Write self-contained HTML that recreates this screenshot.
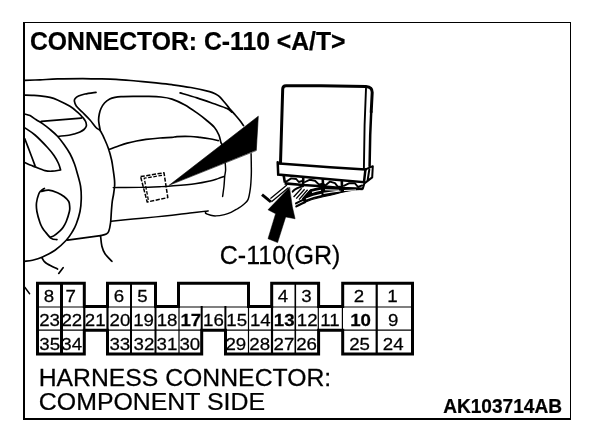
<!DOCTYPE html>
<html>
<head>
<meta charset="utf-8">
<title>CONNECTOR: C-110 A/T</title>
<style>
html,body{margin:0;padding:0;background:#fff;}
body{width:608px;height:434px;overflow:hidden;font-family:"Liberation Sans",sans-serif;}
svg{display:block;position:absolute;left:0;top:0;filter:grayscale(1);}
text{font-family:"Liberation Sans",sans-serif;fill:#000;stroke:#000;stroke-width:0.25px;}
.b{font-weight:bold;}
.n{font-size:17.3px;}
</style>
</head>
<body>
<svg width="608" height="434" viewBox="0 0 608 434">
<rect x="0" y="0" width="608" height="434" fill="#fff"/>
<g id="frame" fill="#000" shape-rendering="crispEdges">
<rect x="23" y="22" width="548" height="1"/>
<rect x="23" y="22" width="2" height="398"/>
<rect x="570" y="22" width="1" height="398"/>
<rect x="23" y="418" width="548" height="2"/>
</g>
<g id="labels">
<text class="b" transform="translate(29.97 50.25) scale(0.9663 1)" font-size="25.60">CONNECTOR: C-110 &lt;A/T&gt;</text>
<text transform="translate(219.70 263.90) scale(0.9873 1)" font-size="25.40">C-110(GR)</text>
<text transform="translate(38.69 385.80) scale(1.0028 1)" font-size="24.70">HARNESS CONNECTOR:</text>
<text transform="translate(38.84 410.30) scale(1.0077 1)" font-size="24.70">COMPONENT SIDE</text>
<text class="b" transform="translate(443.13 412.80) scale(0.9460 1)" font-size="20.20">AK103714AB</text>
</g>
<g id="grid" fill="none" stroke="#000" stroke-linecap="butt">
<path stroke-width="1.1" d="M38 307H412M38 330.1H412"/>
<path stroke-width="3" d="M61.5 283V354"/>
<path stroke-width="2" d="M131 283V354M155.5 306V354M201.7 306V331M225.4 306V331"/>
<path stroke-width="2.2" d="M84.3 306V331M107.5 306V331M272 306V354M376.7 283V354"/>
<path stroke-width="1.2" d="M179 306V354M248.5 306V354M318.3 306V331M342.4 306V331"/>
<path stroke-width="1.6" d="M295.3 283V354"/>
<path id="outline" stroke-width="3" stroke-linejoin="miter" d="M37.5 283.3H84.3V306.45H107.5V283.3H155.5V306.45H178.5V283.3H248.5V306.45H271.7V283.3H318.6V306.45H342.7V283.3H412.5V354.1H342.7V330.25H318.6V354.1H225.5V330.25H201.7V354.1H107.5V330.25H84.3V354.1H37.5Z"/>
</g>
<g id="nums">
<text class="n" transform="translate(43.80 302.00) scale(1.080 1)">8</text>
<text class="n" transform="translate(65.60 302.00) scale(1.080 1)">7</text>
<text class="n" transform="translate(113.73 302.00) scale(1.080 1)">6</text>
<text class="n" transform="translate(137.24 302.00) scale(1.080 1)">5</text>
<text class="n" transform="translate(277.87 302.00) scale(1.080 1)">4</text>
<text class="n" transform="translate(301.24 302.00) scale(1.080 1)">3</text>
<text class="n" transform="translate(353.80 302.00) scale(1.080 1)">2</text>
<text class="n" transform="translate(387.13 302.00) scale(1.080 1)">1</text>
<text class="n" transform="translate(39.14 326.45) scale(1.080 1)">23</text>
<text class="n" transform="translate(61.40 326.45) scale(1.080 1)">22</text>
<text class="n" transform="translate(84.87 326.45) scale(1.080 1)">21</text>
<text class="n" transform="translate(109.50 326.45) scale(1.080 1)">20</text>
<text class="n" transform="translate(133.14 326.45) scale(1.080 1)">19</text>
<text class="n" transform="translate(156.70 326.45) scale(1.080 1)">18</text>
<text class="n b" transform="translate(180.44 326.45) scale(1.080 1)">17</text>
<text class="n" transform="translate(203.10 326.45) scale(1.080 1)">16</text>
<text class="n" transform="translate(226.30 326.45) scale(1.080 1)">15</text>
<text class="n" transform="translate(249.97 326.45) scale(1.080 1)">14</text>
<text class="n b" transform="translate(273.87 326.45) scale(1.080 1)">13</text>
<text class="n" transform="translate(296.87 326.45) scale(1.080 1)">12</text>
<text class="n" transform="translate(320.24 326.45) scale(1.080 1)">11</text>
<text class="n b" transform="translate(350.20 326.45) scale(1.080 1)">10</text>
<text class="n" transform="translate(387.90 326.45) scale(1.080 1)">9</text>
<text class="n" transform="translate(39.24 350.45) scale(1.080 1)">35</text>
<text class="n" transform="translate(61.30 350.45) scale(1.080 1)">34</text>
<text class="n" transform="translate(109.44 350.45) scale(1.080 1)">33</text>
<text class="n" transform="translate(133.51 350.45) scale(1.080 1)">32</text>
<text class="n" transform="translate(156.57 350.45) scale(1.080 1)">31</text>
<text class="n" transform="translate(179.41 350.45) scale(1.080 1)">30</text>
<text class="n" transform="translate(225.47 350.45) scale(1.080 1)">29</text>
<text class="n" transform="translate(249.34 350.45) scale(1.080 1)">28</text>
<text class="n" transform="translate(273.50 350.45) scale(1.080 1)">27</text>
<text class="n" transform="translate(296.14 350.45) scale(1.080 1)">26</text>
<text class="n" transform="translate(349.14 350.45) scale(1.080 1)">25</text>
<text class="n" transform="translate(382.80 350.45) scale(1.080 1)">24</text>
</g>
<g id="art" fill="none" stroke="#000" stroke-width="1.7" stroke-linecap="round" stroke-linejoin="round">
<path d="M24.50 80.40C27.08 80.30 34.50 80.04 40.00 79.80C45.50 79.56 50.42 79.14 57.50 78.95C64.58 78.76 76.08 78.66 82.50 78.65C88.92 78.64 90.42 78.79 96.00 78.90C101.58 79.01 109.33 78.95 116.00 79.30C122.67 79.65 129.33 80.40 136.00 81.00C142.67 81.60 150.00 82.28 156.00 82.90C162.00 83.52 166.21 83.93 172.00 84.70C177.79 85.47 184.50 86.35 190.75 87.50C197.00 88.65 205.29 90.48 209.50 91.60C213.71 92.72 214.33 93.37 216.00 94.20C217.67 95.03 218.08 95.26 219.50 96.60C220.92 97.94 222.83 100.27 224.50 102.25C226.17 104.23 227.83 106.53 229.50 108.50C231.17 110.47 232.83 112.18 234.50 114.10C236.17 116.02 238.00 118.10 239.50 120.00C241.00 121.90 242.83 124.58 243.50 125.50M180.10 92.90C182.92 93.73 191.47 96.13 197.00 97.90C202.53 99.67 208.25 101.73 213.25 103.50C218.25 105.27 223.88 107.05 227.00 108.50C230.12 109.95 231.17 111.58 232.00 112.20M100.40 131.00C100.20 130.00 99.50 126.83 99.20 125.00C98.90 123.17 98.58 121.83 98.60 120.00C98.62 118.17 98.90 115.92 99.30 114.00C99.70 112.08 100.13 110.33 101.00 108.50C101.87 106.67 103.04 104.57 104.50 103.00C105.96 101.43 108.00 100.03 109.75 99.10C111.50 98.17 113.12 97.82 115.00 97.40C116.88 96.98 118.00 96.78 121.00 96.60C124.00 96.42 128.83 96.33 133.00 96.30C137.17 96.27 141.33 96.28 146.00 96.40C150.67 96.52 156.67 96.55 161.00 97.00C165.33 97.45 168.08 97.81 172.00 99.10C175.92 100.39 180.33 102.45 184.50 104.75C188.67 107.05 193.38 110.36 197.00 112.90C200.62 115.44 203.28 117.57 206.20 120.00C209.12 122.43 212.38 125.00 214.50 127.50C216.62 130.00 217.86 132.60 218.90 135.00C219.94 137.40 220.23 140.30 220.75 141.90C221.27 143.50 221.79 144.15 222.00 144.60M96.00 92.30C94.17 92.58 87.92 93.38 85.00 94.00C82.08 94.62 80.13 95.27 78.50 96.00C76.87 96.73 75.88 97.53 75.20 98.40C74.52 99.27 74.23 99.93 74.40 101.20C74.58 102.47 74.90 104.16 76.25 106.00C77.60 107.84 80.21 109.92 82.50 112.25C84.79 114.58 87.75 117.46 90.00 120.00C92.25 122.54 94.27 125.67 96.00 127.50C97.73 129.33 98.98 129.08 100.40 131.00C101.82 132.92 103.15 136.04 104.50 139.00C105.85 141.96 107.32 145.25 108.50 148.75C109.68 152.25 110.82 156.46 111.60 160.00C112.38 163.54 112.72 166.67 113.20 170.00C113.68 173.33 114.27 177.33 114.50 180.00C114.73 182.67 114.75 183.67 114.60 186.00C114.45 188.33 113.99 191.42 113.60 194.00C113.21 196.58 112.62 198.67 112.25 201.50C111.88 204.33 111.68 207.50 111.40 211.00C111.12 214.50 111.04 219.12 110.60 222.50C110.16 225.88 109.47 229.35 108.75 231.25C108.03 233.15 107.61 233.16 106.25 233.90C104.89 234.64 101.54 235.40 100.60 235.70M100.60 235.70L67.50 240.20M24.50 95.20C25.75 95.23 29.42 95.30 32.00 95.40C34.58 95.50 37.00 95.48 40.00 95.80C43.00 96.12 47.08 96.62 50.00 97.30C52.92 97.98 54.17 98.40 57.50 99.90C60.83 101.40 66.67 104.25 70.00 106.30C73.33 108.35 75.42 110.38 77.50 112.20C79.58 114.02 81.15 115.65 82.50 117.20C83.85 118.75 84.97 120.00 85.60 121.50C86.23 123.00 86.57 124.87 86.30 126.20C86.03 127.53 85.05 128.55 84.00 129.50C82.95 130.45 81.50 131.20 80.00 131.90C78.50 132.60 76.67 133.18 75.00 133.70C73.33 134.22 72.71 134.57 70.00 135.00C67.29 135.43 60.62 136.08 58.75 136.30M41.25 121.40L81.25 118.20M24.50 114.00C25.42 114.27 28.04 114.63 30.00 115.60C31.96 116.57 34.17 118.47 36.25 119.80C38.33 121.13 40.21 122.00 42.50 123.60C44.79 125.20 47.50 127.29 50.00 129.40C52.50 131.51 55.17 133.73 57.50 136.25C59.83 138.77 61.92 141.58 64.00 144.50C66.08 147.42 68.25 150.50 70.00 153.75C71.75 157.00 73.25 160.62 74.50 164.00C75.75 167.38 76.48 170.25 77.50 174.00C78.52 177.75 79.97 182.33 80.60 186.50C81.22 190.67 81.35 194.83 81.25 199.00C81.15 203.17 80.83 207.33 80.00 211.50C79.17 215.67 77.50 220.67 76.25 224.00C75.00 227.33 74.17 228.79 72.50 231.50C70.83 234.21 69.17 237.12 66.25 240.25C63.33 243.38 58.96 247.46 55.00 250.25C51.04 253.04 46.25 255.33 42.50 257.00C38.75 258.67 35.50 259.53 32.50 260.25C29.50 260.97 25.83 261.12 24.50 261.30M24.50 127.60C26.25 128.83 31.17 131.68 35.00 135.00C38.83 138.32 44.33 144.08 47.50 147.50C50.67 150.92 52.17 152.83 54.00 155.50C55.83 158.17 57.40 161.08 58.50 163.50C59.60 165.92 60.25 168.92 60.60 170.00M60.60 170.00C59.17 170.20 54.60 171.10 52.00 171.20C49.40 171.30 47.83 171.32 45.00 170.60C42.17 169.88 38.42 168.25 35.00 166.90C31.58 165.55 26.25 163.23 24.50 162.50M24.80 138.75C25.58 140.79 27.80 146.53 29.50 151.00C31.20 155.47 34.08 163.17 35.00 165.60M109.00 149.60C110.50 149.03 114.96 147.28 118.00 146.20C121.04 145.12 124.17 143.97 127.25 143.10C130.33 142.23 133.38 141.62 136.50 141.00C139.62 140.38 142.08 139.90 146.00 139.40C149.92 138.90 155.67 138.33 160.00 138.00C164.33 137.67 169.17 137.63 172.00 137.40C174.83 137.17 173.88 136.75 177.00 136.60C180.12 136.45 186.92 136.37 190.75 136.50C194.58 136.63 196.88 137.03 200.00 137.40C203.12 137.78 206.46 138.22 209.50 138.75C212.54 139.28 216.79 140.29 218.25 140.60M44.40 188.40C43.83 188.80 41.94 189.87 41.00 190.80C40.06 191.73 39.50 192.01 38.75 194.00C38.00 195.99 36.81 199.83 36.50 202.75C36.19 205.67 36.32 208.17 36.90 211.50C37.48 214.83 39.07 220.00 40.00 222.75C40.93 225.50 41.67 226.54 42.50 228.00C43.33 229.46 43.54 229.77 45.00 231.50C46.46 233.23 49.27 237.05 51.25 238.40C53.23 239.75 55.96 239.40 56.90 239.60M41.25 191.50C42.50 191.28 46.04 189.99 48.75 190.20C51.46 190.41 54.96 191.70 57.50 192.75C60.04 193.80 62.12 195.04 64.00 196.50C65.88 197.96 67.80 199.75 68.75 201.50C69.70 203.25 69.59 205.33 69.70 207.00C69.81 208.67 69.98 209.08 69.40 211.50C68.83 213.92 67.32 218.83 66.25 221.50C65.18 224.17 64.04 225.93 63.00 227.50C61.96 229.07 61.54 229.50 60.00 230.90C58.46 232.30 55.42 234.87 53.75 235.90C52.08 236.93 50.62 236.90 50.00 237.10M100.60 236.25C100.82 237.92 101.17 243.33 101.90 246.25C102.63 249.17 103.33 251.25 105.00 253.75C106.67 256.25 110.75 260.00 111.90 261.25M41.90 257.75C42.25 258.32 43.07 260.16 44.00 261.20C44.93 262.24 45.25 262.70 47.50 264.00C49.75 265.30 55.83 268.17 57.50 269.00M63.10 267.75L58.75 273.40"/>
<path stroke-width="1.45" d="M113.20 187.60C117.67 187.57 132.20 187.55 140.00 187.40C147.80 187.25 154.83 186.93 160.00 186.70C165.17 186.47 165.17 186.49 171.00 186.00C176.83 185.51 188.50 184.58 195.00 183.75C201.50 182.92 206.17 181.86 210.00 181.00C213.83 180.14 215.58 179.38 218.00 178.60C220.42 177.82 223.42 176.68 224.50 176.30M225.20 163.00C225.27 164.17 225.68 167.75 225.60 170.00C225.52 172.25 224.97 173.83 224.70 176.50C224.43 179.17 224.35 182.67 224.00 186.00C223.65 189.33 222.83 194.75 222.60 196.50M251.10 153.75C251.13 155.62 251.27 161.46 251.30 165.00C251.33 168.54 251.45 171.17 251.30 175.00C251.15 178.83 250.95 183.90 250.40 188.00C249.85 192.10 249.23 196.77 248.00 199.60C246.77 202.43 244.83 203.43 243.00 205.00C241.17 206.57 239.00 207.77 237.00 209.00C235.00 210.23 233.08 211.47 231.00 212.40C228.92 213.33 227.04 214.02 224.50 214.60C221.96 215.18 218.17 215.83 215.75 215.90C213.33 215.97 211.67 215.42 210.00 215.00C208.33 214.58 206.42 213.97 205.75 213.40C205.08 212.83 205.58 212.02 206.00 211.60C206.42 211.18 207.88 211.02 208.25 210.90M111.25 221.20C114.88 220.83 125.54 219.72 133.00 219.00C140.46 218.28 149.50 217.53 156.00 216.90C162.50 216.28 166.33 215.90 172.00 215.25C177.67 214.60 183.96 213.72 190.00 213.00C196.04 212.28 205.21 211.25 208.25 210.90M24.80 287.30L29.60 293.70"/>
<path stroke-width="1.5" stroke-linecap="butt" stroke-dasharray="4.2 1.5" d="M140.6 176.6L164 172.8L167.8 197.6L147.2 202Z"/>
<path stroke-width="1.3" stroke-linecap="butt" stroke-dasharray="3.6 1.6" d="M162 175.4L144.2 178.2L148.6 201.4"/>
<path fill="#000" stroke="#000" stroke-width="0.6" d="M169.5 185L258.3 116.2L256.3 150.2Z"/>
<g stroke-width="3" stroke-linejoin="round">
<path d="M280.5 163L282.7 89Q282.8 85.8 286 85.7L321 85.8L366 86.5Q372.4 87 372.2 92.5L371.2 112"/>
</g>
<path stroke-width="2.5" d="M371.2 112L370.2 135L369.6 166"/>
<path stroke-width="1.9" d="M366 88.5L364.6 125L363.9 168"/>
<g stroke-width="2.5" stroke-linejoin="miter">
<path d="M279.4 163.6L330 167.2L365.4 169.6"/>
<path d="M277.7 162.2L278.2 174.6L330 179.3L364 182.2L365.4 169.6"/>
</g>
<g stroke-width="2">
<path d="M365.6 169.4L372.8 166.2L372.2 177.4L364.4 183.4L362.8 188.6"/>
<path d="M369.3 169.6L367.7 180"/>
</g>
<g stroke-width="2.6" stroke-linecap="butt">
<path d="M283.6 175L284.9 182.6"/>
<path d="M284.6 183.4L303 185L322 186.2L341 188L362.6 188.9"/>
<path d="M303.2 177L303.2 185M322.8 178.8L323 188.6M341.8 180.4L342 188.6"/>
</g>
<g stroke-width="1.9">
<path d="M285.6 182L291.2 178.4L296.2 179L298.8 182L302.4 180.8"/>
<path d="M305 182L310 179.7L315 180.8L318.8 184.4L322.4 184"/>
<path d="M325 185.8L330 181.6L335 183.2L337.5 186.4L340.8 187"/>
<path d="M343.8 185.8L348.8 183.3L355 183.3L358 187L362.2 185.4"/>
</g>
<circle cx="322.8" cy="185.6" r="2.6" fill="#000" stroke="none"/>
<path fill="#000" stroke="#000" stroke-width="1.2" stroke-linejoin="round" d="M310.4 189.8L322 187L341 188.6L362.6 189.2C352 190.2 346 191.4 342.5 192.2S331 195.2 322 197S310 200 304.4 202.4L302.8 198.4Z"/>
<g stroke-width="2.1">
<path d="M305 202.2C301.6 203.8 298.6 205 296.3 206.4"/>
<path d="M316 195.8C308 197.8 301 200.6 296 203.4"/>
<path d="M303 186.2C298 187.2 294.8 189 292.6 191.6"/>
</g>
<path stroke-width="1.3" stroke-linecap="butt" d="M293.6 197L301.6 188.2M296.2 198.6L304.6 189.2M299 199.6L307.6 189.8M302 199.6L310 190.6"/>
<g stroke="#fff" stroke-width="1.15" stroke-linecap="butt">
<path d="M306 199C311 196.8 316 195.4 321.5 194.4"/>
<path d="M323.5 193.4C329 192.4 334 191.6 340.5 191"/>
<path d="M312 192.4C315 191.2 318 190.6 321 190.2"/>
<path d="M325 189.7L339 190.3"/>
<path d="M344 190.5L356 190"/>
</g>
<path stroke-width="2.9" stroke-linecap="butt" d="M262 194.6L270.9 201.8"/>
<path stroke-width="1.3" d="M270.8 198.2L286.6 185.2M271.8 201.6L288.6 187.6"/>
<path fill="#fff" stroke="#fff" stroke-width="2.4" stroke-linejoin="miter" d="M289.6 187.4L292.6 209L295.2 218.8L285.6 216.9Z"/>
<path fill="#000" stroke="#000" stroke-width="0.5" stroke-linejoin="miter" d="M289.4 187.6L268 209.8L275.6 213.7L268 238.7L277.6 242.6L285.7 216.9L295.1 218.8L292.4 207Z"/>
</g>
</svg>
</body>
</html>
